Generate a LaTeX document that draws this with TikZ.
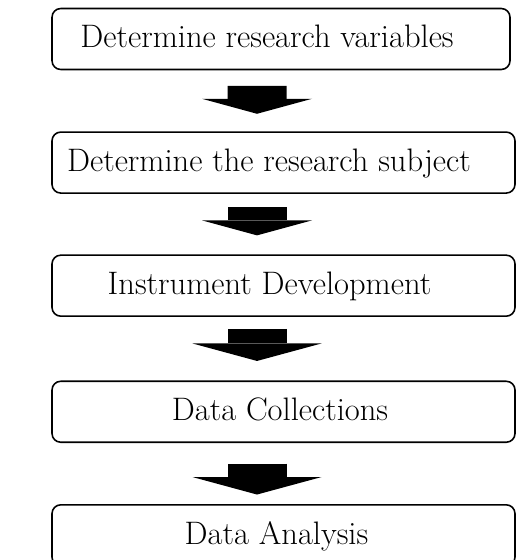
\documentclass[tikz,border=0pt]{standalone}
\usepackage{tikz}
\usetikzlibrary{positioning, arrows.meta}

\tikzset{
  stepbox/.style={draw, line width=0.9pt, rounded corners=5pt, minimum height=1.22cm,
    minimum width=9.26cm, inner sep=0pt},
  steplabel/.style={font=\fontsize{18.5}{22}\selectfont, text height=0.45cm, text depth=0.1cm},
  blockarrow/.style={line width=1.18cm, -{Triangle[width=2.2cm, length=0.3cm, line width=0pt]}},
  widearrow/.style={line width=1.18cm, -{Triangle[width=2.58cm, length=0.35cm, line width=0pt]}}
}

\begin{document}
\begin{tikzpicture}
                      [node distance=1.2cm, text centered]
                      \path[use as bounding box, clip] (0,0) rectangle (10.4,-11.2);
                      % nodes %
                      \node[stepbox, minimum width=9.16cm, label={[steplabel, xshift=-0.28cm]center:Determine research variables}] (vars) at (5.62,-0.78) {};
                      \node[stepbox, below=1.22cm of vars, xshift=0.05cm, label={[steplabel, xshift=-0.29cm]center:Determine the research subject}] (subj) {};
                      \node[stepbox, below=1.21cm of subj, label={[steplabel, xshift=-0.28cm]center:Instrument Development}] (instr) {};
                      \node[stepbox, below=1.27cm of instr, label={[steplabel, xshift=-0.07cm]center:Data Collections}] (coll) {};
                      \node[stepbox, below=1.22cm of coll, label={[steplabel, xshift=-0.14cm]center:Data Analysis}] (anal) {};

                      % edges %
                      \draw[blockarrow, shorten <=0.31cm, shorten >=0.35cm] ([xshift=-0.48cm]vars.south) -- ([xshift=-0.53cm]subj.north);
                      \draw[blockarrow, shorten <=0.27cm, shorten >=0.38cm] ([xshift=-0.53cm]subj.south) -- ([xshift=-0.53cm]instr.north);
                      \draw[widearrow, shorten <=0.24cm, shorten >=0.39cm] ([xshift=-0.53cm]instr.south) -- ([xshift=-0.53cm]coll.north);
                      \draw[widearrow, shorten <=0.41cm, shorten >=0.19cm] ([xshift=-0.53cm]coll.south) -- ([xshift=-0.53cm]anal.north);
                    \end{tikzpicture}
\end{document}
